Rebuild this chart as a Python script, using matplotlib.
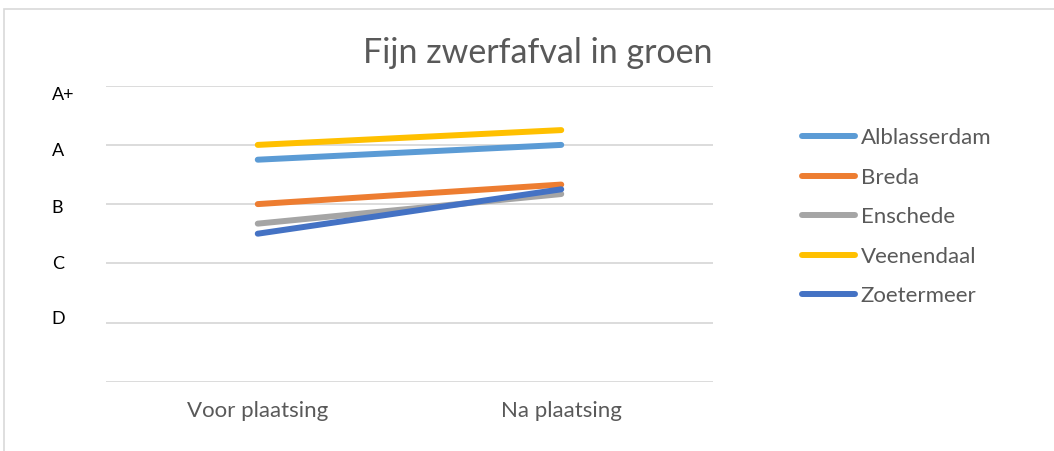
import matplotlib
matplotlib.use('Agg')
import matplotlib.pyplot as plt
from matplotlib.patches import Rectangle
from matplotlib.transforms import ScaledTranslation

plt.rcParams['font.family'] = ['Lato', 'DejaVu Sans']

categories = ['Voor plaatsing', 'Na plaatsing']
grade_labels = ['', 'D', 'C', 'B', 'A', 'A+']
series_names = ['Alblasserdam', 'Breda', 'Enschede', 'Veenendaal', 'Zoetermeer']
alblasserdam = [3.75, 4.0]
breda = [3.0, 3.33]
enschede = [2.67, 3.17]
veenendaal = [4.0, 4.25]
zoetermeer = [2.5, 3.25]
colors = ['#5B9BD5', '#ED7D31', '#A5A5A5', '#FFC000', '#4472C4']

fig = plt.figure(figsize=(10.54, 4.51), dpi=100)
ax = fig.add_axes([106/1054, 1 - 381.7/451, 607/1054, 296/451])

# border round the chart (right and bottom edges fall outside the picture)
fig.patches.append(Rectangle((4/1054, -0.1), 1.1, 1.1 - 9/451, transform=fig.transFigure,
                             fill=False, edgecolor='#D9D9D9', linewidth=1.2))

x = range(len(categories))
for name, vals, c in zip(series_names, [alblasserdam, breda, enschede, veenendaal, zoetermeer], colors):
    ax.plot(x, vals, color=c, linewidth=4.3, solid_capstyle='round', label=name)

ax.set_xlim(-0.5, 1.5)
ax.set_ylim(0, 5)
ax.set_yticks(range(6))
ax.set_yticklabels(grade_labels, fontsize=13, color='black', ha='left')
ax.set_xticks(list(x))
ax.set_xticklabels(categories, fontsize=16, color='#595959')
ax.tick_params(axis='y', length=0, pad=39)
ax.tick_params(axis='x', length=0, pad=14)
# shift grade labels down a little, like the reference
shifts = [0, -4.5, -1, 2, 5, 8]
for lab, dy in zip(ax.get_yticklabels(), shifts):
    lab.set_transform(lab.get_transform() + ScaledTranslation(0, -dy/100, fig.dpi_scale_trans))
ax.grid(axis='y', color='#D9D9D9', linewidth=1.3)
ax.set_axisbelow(True)
for s in ax.spines.values():
    s.set_visible(False)

fig.text(538/1054, 1 - 53/451, 'Fijn zwerfafval in groen', fontsize=24.5, color='#595959',
         ha='center', va='center')

leg = ax.legend(loc='upper left', bbox_to_anchor=(782/1054, 1 - 108/451), bbox_transform=fig.transFigure,
                frameon=False, fontsize=16, handlelength=2.4, handletextpad=0.25, labelspacing=0.88,
                labelcolor='#595959')

fig.savefig('out.png', dpi=100)
